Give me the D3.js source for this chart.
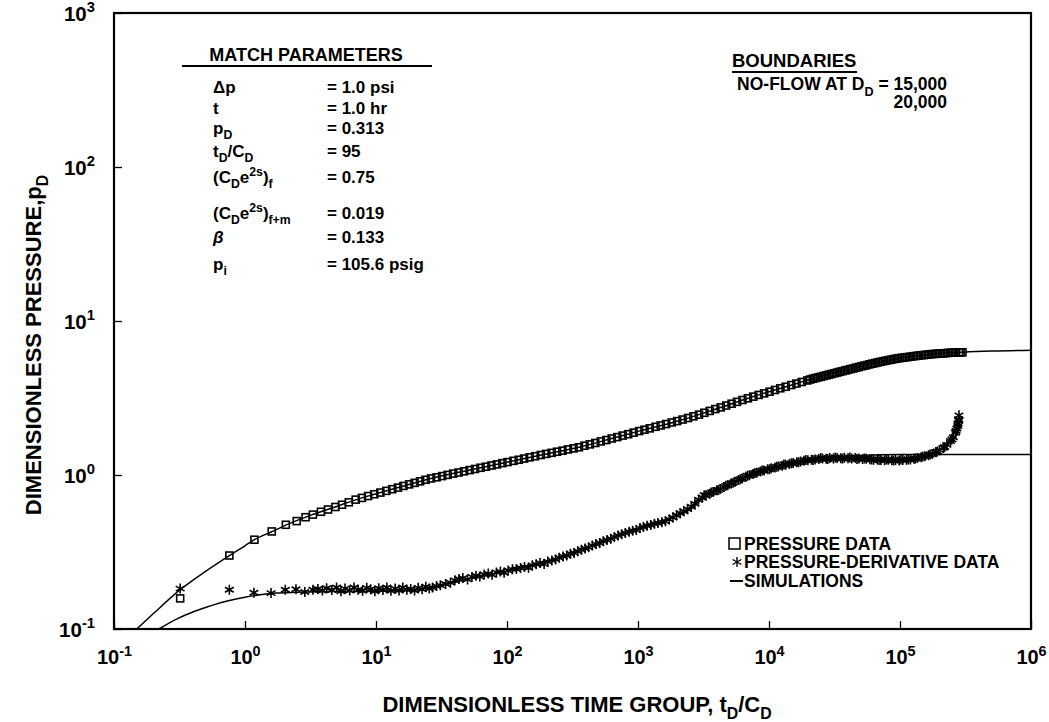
<!DOCTYPE html>
<html><head><meta charset="utf-8">
<script src="https://cdn.jsdelivr.net/npm/d3@7"></script>
<style>
body{margin:0;background:#fff;}
svg text{font-family:"Liberation Sans",Arial,Helvetica,sans-serif;font-weight:bold;fill:#000;}
</style></head><body>
<svg id="chart" width="1049" height="722"></svg>
<script>
// ---------------- DATA ----------------
const xTicks = [1e-1, 1e0, 1e1, 1e2, 1e3, 1e4, 1e5, 1e6];
const xTickExps = ["-1", "0", "1", "2", "3", "4", "5", "6"];
const yTicks = [1e-1, 1e0, 1e1, 1e2, 1e3];
const yTickExps = ["-1", "0", "1", "2", "3"];

// pressure data (squares)
const pressureT = [0.32,0.76,1.18,1.60,2.05,2.48,2.9,3.3,3.8,4.3,4.9,5.5,6.2,7.0,7.8,8.7,9.7,10.8,12.0,13.3,14.7,16.2,17.9,19.7,21.7,23.9,26.3,29.0,32.0,35.2,38.8,42.7,47.0,51.8,57.0,62.8,69.1,76.1,83.8,92.2,101,112,123,135,149,164,181,199,219,241,265,292,322,354,390,429,472,520,573,630,694,764,841,925,1020,1120,1230,1360,1490,1640,1810,1990,2190,2410,2650,2920,3210,3530,3890,4280,4710,5180,5700,6270,6900,7590,8350,9180,10100,11100,12200,13400,14800,16200,17800,19600,20600,21600,22600,23700,24900,26100,27400,28700,30100,31600,33100,34700,36400,38200,40000,42000,44000,46200,48400,50800,53300,55900,58600,61500,64500,67600,70900,74400,78000,81800,85800,90000,94400,99000,104000,109000,114000,120000,126000,132000,138000,145000,152000,159000,167000,175000,184000,193000,202000,212000,222000,233000,244000,256000,268000,282000,290000,300000];
const pressureP = [0.158,0.300,0.380,0.430,0.475,0.502,0.532,0.553,0.577,0.597,0.620,0.641,0.665,0.692,0.710,0.730,0.750,0.769,0.789,0.809,0.828,0.849,0.869,0.889,0.910,0.931,0.950,0.966,0.984,1.002,1.021,1.038,1.057,1.076,1.094,1.114,1.132,1.153,1.172,1.194,1.213,1.236,1.256,1.279,1.303,1.324,1.349,1.371,1.393,1.416,1.439,1.466,1.489,1.514,1.549,1.581,1.614,1.652,1.687,1.726,1.762,1.803,1.841,1.884,1.928,1.968,2.009,2.056,2.099,2.143,2.193,2.239,2.291,2.344,2.404,2.466,2.535,2.606,2.679,2.748,2.825,2.904,2.985,3.069,3.148,3.228,3.311,3.388,3.475,3.565,3.656,3.741,3.837,3.926,4.018,4.111,4.169,4.217,4.256,4.305,4.345,4.395,4.436,4.487,4.529,4.581,4.624,4.677,4.721,4.775,4.819,4.875,4.920,4.977,5.023,5.082,5.129,5.176,5.236,5.284,5.333,5.383,5.433,5.483,5.521,5.572,5.610,5.662,5.702,5.741,5.768,5.808,5.834,5.861,5.902,5.929,5.957,5.984,6.012,6.039,6.067,6.095,6.109,6.138,6.152,6.166,6.180,6.209,6.223,6.237,6.237,6.252,6.252,6.266];

// pressure-derivative data (asterisks)
const derivT = [0.32,0.76,1.17,1.58,2.03,2.45,2.86,3.3,3.6,3.9,4.2,4.6,5.0,5.4,5.8,6.3,6.8,7.3,7.9,8.5,9.1,9.8,10.5,11.3,12.1,13.0,14.0,15.0,16.0,17.2,18.4,19.7,21.0,22.5,24.0,25.5,27.0,29.0,31,34,37,40,43,46,50,54,58,62,67,72,77,83,89,95,102,110,118,127,136,146,156,167,179,192,205,220,235,250,268,286,305,325,347,370,395,420,448,478,510,544,580,620,660,705,750,800,855,910,970,1035,1100,1175,1250,1335,1420,1520,1620,1730,1850,1970,2100,2240,2390,2550,2720,2900,3100,3200,3300,3520,3620,3750,4000,4120,4250,4530,4680,4830,5150,5320,5490,5850,6040,6240,6650,6860,7090,7560,7800,8060,8590,8860,9160,9770,10100,10400,11100,11450,11800,12600,13000,13400,14300,14800,15300,16300,16800,17400,18500,19100,19800,21100,21700,22500,24000,24800,25600,27300,28100,29100,31000,32000,33100,35300,36400,37600,40100,41400,42800,45600,47000,48600,51800,53500,55300,59000,60800,62900,67000,69100,71500,76200,78600,81300,86700,89400,92400,98600,101600,105000,112000,115500,120000,128000,131300,136000,145000,149200,155000,165000,169600,176000,188000,192800,200000,214000,219200,228000,243000,249000,255000,265000,268000,272000,276000,277000,280000,281000,282000];
const derivP = [0.183,0.180,0.172,0.171,0.180,0.181,0.174,0.180,0.182,0.178,0.184,0.179,0.186,0.176,0.183,0.178,0.186,0.180,0.177,0.185,0.181,0.176,0.184,0.179,0.186,0.177,0.183,0.178,0.186,0.180,0.182,0.178,0.185,0.181,0.188,0.183,0.186,0.190,0.192,0.196,0.200,0.207,0.211,0.214,0.210,0.218,0.222,0.219,0.226,0.229,0.225,0.233,0.236,0.232,0.240,0.244,0.245,0.249,0.253,0.250,0.259,0.263,0.268,0.264,0.274,0.279,0.283,0.290,0.296,0.300,0.308,0.312,0.320,0.327,0.333,0.339,0.348,0.356,0.362,0.371,0.378,0.386,0.396,0.404,0.413,0.420,0.428,0.435,0.439,0.452,0.460,0.468,0.474,0.482,0.488,0.494,0.500,0.515,0.530,0.548,0.565,0.582,0.600,0.622,0.650,0.690,0.715,0.740,0.735,0.755,0.770,0.775,0.795,0.800,0.812,0.835,0.850,0.858,0.880,0.890,0.905,0.928,0.940,0.950,0.975,0.990,0.995,1.015,1.030,1.035,1.055,1.070,1.070,1.090,1.090,1.105,1.120,1.130,1.135,1.150,1.170,1.165,1.180,1.190,1.195,1.210,1.210,1.222,1.236,1.250,1.248,1.258,1.250,1.262,1.270,1.290,1.280,1.276,1.270,1.288,1.282,1.300,1.290,1.284,1.280,1.292,1.286,1.300,1.280,1.288,1.270,1.278,1.270,1.280,1.276,1.265,1.260,1.258,1.262,1.250,1.252,1.248,1.260,1.255,1.245,1.240,1.250,1.244,1.260,1.252,1.258,1.262,1.262,1.275,1.280,1.290,1.305,1.320,1.325,1.345,1.360,1.370,1.405,1.420,1.450,1.500,1.520,1.570,1.660,1.700,1.760,1.880,1.930,2.000,2.080,2.150,2.300,2.250,2.440];

// simulation curves
const simPressureT = [0.149,0.2,0.32,0.5,0.76,1.0,1.18,1.6,2.05,3.16,5.0,6.7,10,15.8,25.8,50,100,133,200,361,631,1000,2090,2800,3980,6760,10000,15800,21800,39800,70300,100000,158000,302000,500000,1000000];
const simPressureP = [0.1,0.126,0.18,0.237,0.30,0.347,0.38,0.428,0.473,0.547,0.624,0.682,0.755,0.843,0.946,1.069,1.21,1.276,1.37,1.52,1.726,1.92,2.26,2.44,2.69,3.13,3.47,3.90,4.23,4.82,5.43,5.75,6.04,6.27,6.38,6.46];
const simDerivT = [0.22,0.3,0.4,0.5,0.6,0.76,1.0,1.3,1.7,2.5,5,10,20,30,50,100,200,300,500,1000,1700,2500,3000,4200,6800,10000,17000,30000,50000,100000,1000000];
const simDerivP = [0.1,0.116,0.129,0.138,0.145,0.153,0.161,0.167,0.171,0.173,0.175,0.176,0.18,0.19,0.21,0.238,0.275,0.305,0.36,0.45,0.52,0.6,0.69,0.81,0.98,1.1,1.22,1.3,1.34,1.36,1.36];

// texts
const xTitleSegs = [["DIMENSIONLESS TIME GROUP, t",""],["D","sub"],["/C",""],["D","sub"]];
const yTitleSegs = [["DIMENSIONLESS PRESSURE,p",""],["D","sub"]];
const paramHeader = "MATCH PARAMETERS";
const paramLabels = [
  [["\u0394p",""]],
  [["t",""]],
  [["p",""],["D","sub"]],
  [["t",""],["D","sub"],["/C",""],["D","sub"]],
  [["(C",""],["D","sub"],["e",""],["2s","sup"],[")",""],["f","sub"]],
  [["(C",""],["D","sub"],["e",""],["2s","sup"],[")",""],["f+m","sub"]],
  [["\u03B2","it"]],
  [["p",""],["i","sub"]]
];
const paramValues = ["= 1.0 psi","= 1.0 hr","= 0.313","= 95","= 0.75","= 0.019","= 0.133","= 105.6 psig"];
const boundaryHeader = "BOUNDARIES";
const boundaryLine1 = [["NO-FLOW AT D",""],["D","sub"],[" = 15,000",""]];
const boundaryLine2 = "20,000";
const legendLabels = ["PRESSURE DATA","PRESSURE-DERIVATIVE DATA","SIMULATIONS"];

// ---------------- LAYOUT ----------------
const L = 114, R = 1031, T = 13, B = 629;
const svg = d3.select("#chart");
const x = d3.scaleLog().domain([1e-1, 1e6]).range([L, R]);
const y = d3.scaleLog().domain([1e-1, 1e3]).range([B, T]);

function rich(sel, segs, size) {
  let cur = 0;
  segs.forEach(([txt, kind]) => {
    const target = kind === "sub" ? size * 0.32 : kind === "sup" ? -size * 0.42 : 0;
    const t = sel.append("tspan").text(txt).attr("dy", target - cur);
    if (kind === "sub" || kind === "sup") t.attr("font-size", size * 0.72);
    if (kind === "it") t.attr("font-style", "italic");
    cur = target;
  });
}

// clip
svg.append("clipPath").attr("id","clip").append("rect")
  .attr("x", L).attr("y", T).attr("width", R - L).attr("height", B - T);

// axes (inward ticks)
const xAxis = svg.append("g").attr("transform", `translate(0,${B})`)
  .call(d3.axisBottom(x).tickValues(xTicks).tickSize(-8).tickFormat(() => ""));
xAxis.select(".domain").remove();
xAxis.selectAll(".tick line").attr("stroke", "#000").attr("stroke-width", 1.3);
xAxis.selectAll(".tick").each(function(d, i) {
  const t = d3.select(this).append("text").attr("text-anchor", "middle")
    .attr("y", 35).attr("font-size", 20);
  rich(t, [["10",""],[xTickExps[i],"sup"]], 20);
});

const yAxis = svg.append("g").attr("transform", `translate(${L},0)`)
  .call(d3.axisLeft(y).tickValues(yTicks).tickSize(-8).tickFormat(() => ""));
yAxis.select(".domain").remove();
yAxis.selectAll(".tick line").attr("stroke", "#000").attr("stroke-width", 1.3);
yAxis.selectAll(".tick").each(function(d, i) {
  const t = d3.select(this).append("text").attr("text-anchor", "end")
    .attr("x", -19).attr("y", 7).attr("font-size", 20.5);
  rich(t, [["10",""],[yTickExps[i],"sup"]], 20.5);
});

// frame
svg.append("rect").attr("x", L).attr("y", T).attr("width", R - L).attr("height", B - T)
  .attr("fill", "none").attr("stroke", "#000").attr("stroke-width", 2.2);

// simulation lines
const plot = svg.append("g").attr("clip-path", "url(#clip)");
const line = d3.line().x(d => x(d[0])).y(d => y(d[1])).curve(d3.curveMonotoneX);
plot.append("path").datum(simPressureT.map((t, i) => [t, simPressureP[i]]))
  .attr("d", line).attr("fill", "none").attr("stroke", "#000").attr("stroke-width", 1.5);
plot.append("path").datum(simDerivT.map((t, i) => [t, simDerivP[i]]))
  .attr("d", line).attr("fill", "none").attr("stroke", "#000").attr("stroke-width", 1.5);

// markers
const sq = 7;
plot.selectAll("rect.p").data(pressureT.map((t, i) => [t, pressureP[i]])).enter()
  .append("rect").attr("class", "p")
  .attr("x", d => x(d[0]) - sq / 2).attr("y", d => y(d[1]) - sq / 2)
  .attr("width", sq).attr("height", sq)
  .attr("fill", "none").attr("stroke", "#000").attr("stroke-width", 1.6);

const star = "M0,-5V5M-4.4,-2.5L4.4,2.5M-4.4,2.5L4.4,-2.5";
plot.selectAll("path.d").data(derivT.map((t, i) => [t, derivP[i]])).enter()
  .append("path").attr("class", "d")
  .attr("transform", d => `translate(${x(d[0])},${y(d[1])})`)
  .attr("d", star).attr("fill", "none").attr("stroke", "#000").attr("stroke-width", 1.6);

// match parameters block
svg.append("text").attr("x", 306).attr("y", 61).attr("text-anchor", "middle")
  .attr("font-size", 18).text(paramHeader);
svg.append("line").attr("x1", 182).attr("x2", 432).attr("y1", 66).attr("y2", 66)
  .attr("stroke", "#000").attr("stroke-width", 2);
const rowY = [93, 114, 134, 157, 183, 219, 243, 270];
paramLabels.forEach((segs, i) => {
  const t = svg.append("text").attr("x", 213).attr("y", rowY[i]).attr("font-size", 17);
  rich(t, segs, 17);
  svg.append("text").attr("x", 327).attr("y", rowY[i]).attr("font-size", 17).text(paramValues[i]);
});

// boundaries
svg.append("text").attr("x", 732).attr("y", 67).attr("font-size", 18.5).text(boundaryHeader);
svg.append("line").attr("x1", 732).attr("x2", 857).attr("y1", 72).attr("y2", 72)
  .attr("stroke", "#000").attr("stroke-width", 2);
const b1 = svg.append("text").attr("x", 947).attr("y", 90).attr("text-anchor", "end").attr("font-size", 17.5);
rich(b1, boundaryLine1, 17.5);
svg.append("text").attr("x", 947).attr("y", 108).attr("text-anchor", "end").attr("font-size", 17.5).text(boundaryLine2);

// legend
const lg = svg.append("g");
lg.append("rect").attr("x", 729).attr("y", 538).attr("width", 11).attr("height", 11)
  .attr("fill", "none").attr("stroke", "#000").attr("stroke-width", 1.5);
lg.append("path").attr("transform", "translate(737,562)").attr("d", star)
  .attr("fill", "none").attr("stroke", "#000").attr("stroke-width", 1.4);
lg.append("line").attr("x1", 730).attr("x2", 743).attr("y1", 581).attr("y2", 581)
  .attr("stroke", "#000").attr("stroke-width", 2);
const lgY = [550, 568, 587];
legendLabels.forEach((s, i) => {
  lg.append("text").attr("x", 744).attr("y", lgY[i]).attr("font-size", 17.5).text(s);
});

// axis titles
const xt = svg.append("text").attr("x", 577).attr("y", 712).attr("text-anchor", "middle").attr("font-size", 22);
rich(xt, xTitleSegs, 22);
const yt = svg.append("text").attr("transform", "translate(41,345) rotate(-90)")
  .attr("text-anchor", "middle").attr("font-size", 22);
rich(yt, yTitleSegs, 22);
</script>
</body></html>
